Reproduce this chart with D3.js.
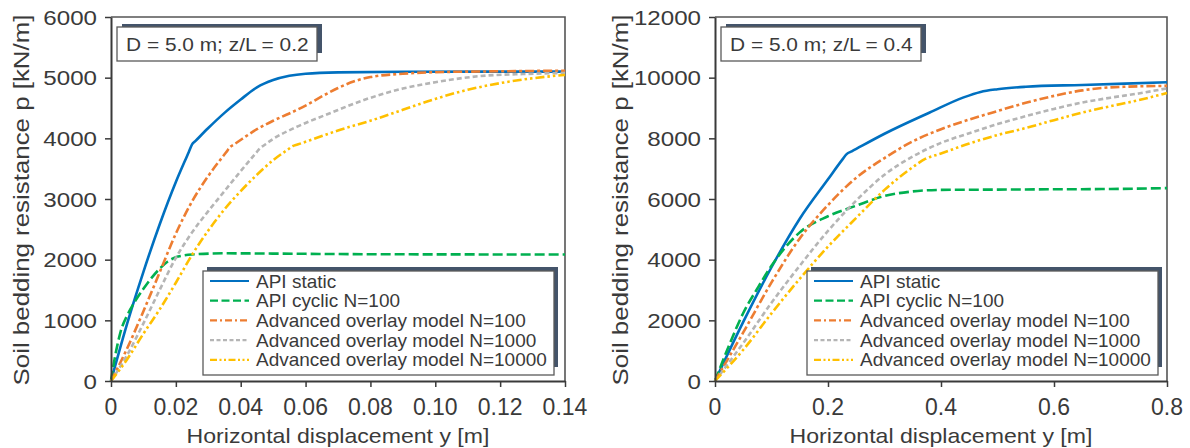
<!DOCTYPE html>
<html><head><meta charset="utf-8">
<script src="https://cdn.jsdelivr.net/npm/d3@7"></script>
<style>
html,body{margin:0;padding:0;background:#fff;}
svg{display:block;font-family:"Liberation Sans",Arial,sans-serif;}
</style></head>
<body><svg id="chart" width="1190" height="448"></svg>
<script>
// ---------- data ----------
const seriesNames = ["API static","API cyclic N=100","Advanced overlay model N=100","Advanced overlay model N=1000","Advanced overlay model N=10000"];
const panelTitles = ["D = 5.0 m; z/L = 0.2","D = 5.0 m; z/L = 0.4"];
const xLabel = "Horizontal displacement y [m]";
const yLabel = "Soil bedding resistance p [kN/m]";

const xTicksLeft = [0,0.02,0.04,0.06,0.08,0.10,0.12,0.14];
const xTickLabelsLeft = ["0","0.02","0.04","0.06","0.08","0.10","0.12","0.14"];
const yTicksLeft = [0,1000,2000,3000,4000,5000,6000];
const xTicksRight = [0,0.2,0.4,0.6,0.8];
const xTickLabelsRight = ["0","0.2","0.4","0.6","0.8"];
const yTicksRight = [0,2000,4000,6000,8000,10000,12000];

// left panel (z/L = 0.2): [y (m), p (kN/m)]
const leftApiStatic = [[0,0],[0.005,950],[0.01,1800],[0.015,2580],[0.02,3280],[0.024,3776],[0.025,3900],[0.026,3954],[0.03,4170],[0.035,4420],[0.04,4640],[0.045,4840],[0.05,4960],[0.055,5030],[0.06,5065],[0.07,5088],[0.09,5097],[0.14,5100]];
const leftApiCyclic = [[0,0],[0.001,330],[0.002,600],[0.003,820],[0.005,1080],[0.0075,1320],[0.01,1520],[0.0125,1700],[0.015,1850],[0.0175,1970],[0.02,2040],[0.0225,2070],[0.025,2085],[0.035,2105],[0.05,2100],[0.08,2090],[0.14,2085]];
const leftAom100 = [[0,0],[0.005,540],[0.01,1150],[0.015,1790],[0.02,2430],[0.025,2960],[0.03,3380],[0.0355,3770],[0.0368,3860],[0.038,3902],[0.045,4150],[0.05,4290],[0.055,4410],[0.06,4540],[0.065,4690],[0.07,4830],[0.075,4940],[0.08,5010],[0.09,5065],[0.1,5090],[0.12,5105],[0.14,5115]];
const leftAom1000 = [[0,0],[0.005,430],[0.01,950],[0.015,1500],[0.02,2030],[0.025,2450],[0.03,2800],[0.035,3130],[0.04,3460],[0.0448,3765],[0.046,3840],[0.047,3878],[0.05,3990],[0.0574,4192],[0.0677,4418],[0.078,4632],[0.09,4820],[0.1,4925],[0.114,5027],[0.127,5060],[0.14,5077]];
const leftAom10000 = [[0,0],[0.005,360],[0.01,780],[0.015,1180],[0.02,1620],[0.025,2080],[0.03,2480],[0.035,2830],[0.04,3130],[0.045,3400],[0.05,3640],[0.0548,3825],[0.056,3870],[0.0575,3897],[0.062,3980],[0.07,4130],[0.08,4290],[0.09,4470],[0.1,4650],[0.11,4800],[0.12,4910],[0.13,4990],[0.14,5045]];

// right panel (z/L = 0.4)
const rightApiStatic = [[0,0],[0.05,1950],[0.1,3750],[0.15,5350],[0.2,6650],[0.225,7290],[0.233,7480],[0.242,7570],[0.3,8150],[0.38,8850],[0.44,9350],[0.47,9530],[0.5,9620],[0.55,9700],[0.65,9760],[0.8,9850]];
const rightApiCyclic = [[0,0],[0.025,1180],[0.05,2240],[0.075,3050],[0.1,3800],[0.125,4420],[0.15,4900],[0.2,5430],[0.25,5780],[0.3,6100],[0.35,6250],[0.4,6300],[0.5,6310],[0.6,6320],[0.7,6330],[0.8,6360]];
const rightAom100 = [[0,0],[0.05,1600],[0.1,3250],[0.15,4700],[0.2,5800],[0.25,6700],[0.3,7350],[0.35,7900],[0.4,8300],[0.45,8620],[0.5,8900],[0.55,9170],[0.6,9400],[0.65,9580],[0.7,9680],[0.8,9730]];
const rightAom1000 = [[0,0],[0.05,1250],[0.1,2580],[0.15,3800],[0.2,4950],[0.25,5950],[0.3,6800],[0.35,7400],[0.4,7850],[0.45,8170],[0.5,8470],[0.55,8730],[0.6,8970],[0.65,9180],[0.7,9340],[0.75,9480],[0.8,9650]];
const rightAom10000 = [[0,0],[0.05,1030],[0.1,2230],[0.15,3370],[0.2,4430],[0.25,5380],[0.3,6300],[0.35,7050],[0.372,7320],[0.4,7500],[0.45,7830],[0.5,8110],[0.55,8340],[0.6,8600],[0.65,8850],[0.7,9060],[0.75,9260],[0.8,9495]];

// ---------- styles ----------
const colors = ["#0070c0","#00b050","#ed7d31","#b5b5b5","#ffc000"];
const dashes = [null,"10,4","9,3,3,3","5,3","9,3,2.5,3,2.5,3"];
const legendDashes = [null,"8,3.5","7,3,2,3","4,2.5","7,2.5,2,2.5,2,2.5"];
const textColor = "#3a3a3a";

const svg = d3.select("#chart");

const panels = [
  {left:111,right:565,top:17,bottom:381, xDomain:[0,0.14], yDomain:[0,6000], xTicks:xTicksLeft, xLabels:xTickLabelsLeft, yTicks:yTicksLeft, title:panelTitles[0],
   series:[leftApiStatic,leftApiCyclic,leftAom100,leftAom1000,leftAom10000], titleBox:[117,27,200,34], legendBox:[203,271,351,104], yTitleX:29},
  {left:715,right:1167,top:17,bottom:381, xDomain:[0,0.8], yDomain:[0,12000], xTicks:xTicksRight, xLabels:xTickLabelsRight, yTicks:yTicksRight, title:panelTitles[1],
   series:[rightApiStatic,rightApiCyclic,rightAom100,rightAom1000,rightAom10000], titleBox:[721,27,200,34], legendBox:[807,271,351,104], yTitleX:628}
];

function stretchedText(g, str, x, y, size, sx, anchor){
  return g.append("text")
    .attr("transform",`translate(${x},${y}) scale(${sx},1)`)
    .attr("text-anchor",anchor||"start")
    .attr("font-size",size)
    .attr("fill",textColor)
    .text(str);
}

panels.forEach(P=>{
  const x = d3.scaleLinear().domain(P.xDomain).range([P.left,P.right]);
  const y = d3.scaleLinear().domain(P.yDomain).range([P.bottom,P.top]);

  // frame (top/right)
  svg.append("path")
    .attr("d",`M${P.left},${P.top}H${P.right}V${P.bottom}`)
    .attr("fill","none").attr("stroke","#555").attr("stroke-width",1.6);

  // curves
  const line = d3.line().x(d=>x(d[0])).y(d=>y(d[1])).curve(d3.curveMonotoneX);
  const cg = svg.append("g");
  P.series.forEach((s,i)=>{
    cg.append("path").datum(s).attr("d",line)
      .attr("fill","none").attr("stroke",colors[i]).attr("stroke-width",2.6)
      .attr("stroke-dasharray",dashes[i]).attr("stroke-linejoin","round");
  });

  // axes
  const xAxis = d3.axisBottom(x).tickValues(P.xTicks).tickSize(6).tickSizeOuter(0).tickFormat("");
  const gx = svg.append("g").attr("transform",`translate(0,${P.bottom})`).call(xAxis);
  gx.select(".domain").attr("stroke","#3a3a3a").attr("stroke-width",2);
  gx.selectAll(".tick line").attr("stroke","#3a3a3a").attr("stroke-width",1.5);
  P.xTicks.forEach((t,i)=>{
    svg.append("text").attr("x",x(t)).attr("y",P.bottom+34)
      .attr("text-anchor","middle").attr("font-size",23).attr("fill",textColor).text(P.xLabels[i]);
  });

  const yAxis = d3.axisLeft(y).tickValues(P.yTicks).tickSize(6).tickSizeOuter(0).tickFormat("");
  const gy = svg.append("g").attr("transform",`translate(${P.left},0)`).call(yAxis);
  gy.select(".domain").attr("stroke","#3a3a3a").attr("stroke-width",2);
  gy.selectAll(".tick line").attr("stroke","#3a3a3a").attr("stroke-width",1.5);
  P.yTicks.forEach(t=>{
    stretchedText(svg, d3.format("d")(t), P.left-14, y(t)+7.5, 21, 1.15, "end");
  });

  // axis titles
  stretchedText(svg, xLabel, (P.left+P.right)/2, 443, 20, 1.155, "middle");
  svg.append("text")
    .attr("transform",`translate(${P.yTitleX},${(P.top+P.bottom)/2+1}) rotate(-90) scale(1.15,1)`)
    .attr("text-anchor","middle").attr("font-size",22.5).attr("fill",textColor).text(yLabel);

  // title box
  const [tx,ty,tw,th] = P.titleBox;
  svg.append("rect").attr("x",tx+5).attr("y",ty-3).attr("width",tw).attr("height",th-5).attr("fill","#44546a");
  svg.append("rect").attr("x",tx).attr("y",ty).attr("width",tw).attr("height",th)
    .attr("fill","#fff").attr("stroke","#5a5a5a").attr("stroke-width",1.3);
  stretchedText(svg, P.title, tx+9, ty+23.5, 18.5, 1.13, "start");

  // legend
  const [lx,ly,lw,lh] = P.legendBox;
  svg.append("rect").attr("x",lx+4).attr("y",ly-4).attr("width",lw).attr("height",lh-4).attr("fill","#44546a");
  svg.append("rect").attr("x",lx).attr("y",ly).attr("width",lw).attr("height",lh)
    .attr("fill","#fff").attr("stroke","#5a5a5a").attr("stroke-width",1.3);
  seriesNames.forEach((name,i)=>{
    const cy = ly + 10 + i*19.7;
    svg.append("line").attr("x1",lx+7).attr("x2",lx+46).attr("y1",cy).attr("y2",cy)
      .attr("stroke",colors[i]).attr("stroke-width",2.2).attr("stroke-dasharray",legendDashes[i]);
    stretchedText(svg, name, lx+53, cy+6.5, 18, 1.055, "start");
  });
});
</script></body></html>
